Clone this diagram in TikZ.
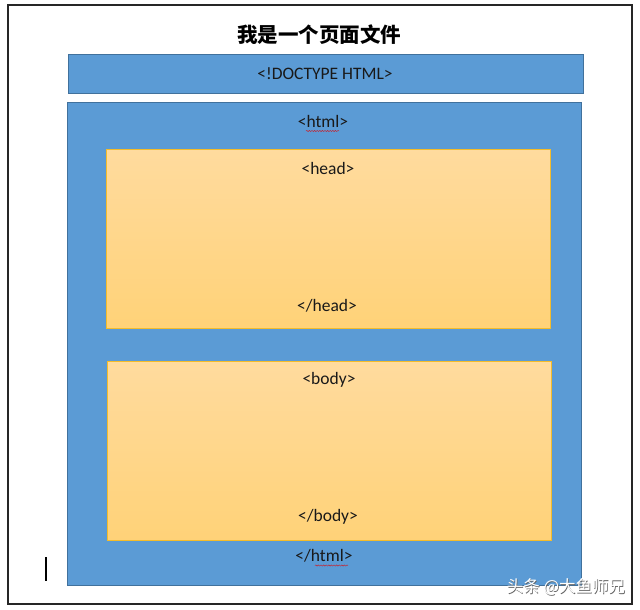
\documentclass[tikz,border=0pt]{standalone}
\usepackage{fontspec}
\setmainfont{Carlito}
\newfontfamily\cjk{Noto Sans CJK SC}
\usetikzlibrary{decorations.pathmorphing}
\definecolor{blueF}{HTML}{5B9BD5}
\definecolor{blueD}{HTML}{41719C}
\definecolor{orT}{HTML}{FFDB9E}
\definecolor{orB}{HTML}{FFD278}
\definecolor{orD}{HTML}{F4BC2A}
\begin{document}
\begin{tikzpicture}[x=1pt,y=-1pt,
  bluebox/.style={draw=blueD, fill=blueF, line width=1pt, inner sep=0pt},
  orbox/.style={draw=orD, top color=orT, bottom color=orB, line width=1pt, inner sep=0pt},
  lbl/.style={font=\fontsize{17.5}{20}\selectfont, text=black!90, inner sep=0pt},
  squig/.style={draw=red!70!blueD, decorate, decoration={snake, amplitude=0.6pt, segment length=2.6pt}, line width=0.45pt}]
\useasboundingbox (0,0) rectangle (640,610);
\fill[white] (0,0) rectangle (640,610);
\draw[line width=1.3pt, black!85] (8,5) rectangle (632,604);
\node[font=\cjk\fontsize{20.5}{24}\selectfont\bfseries, inner sep=0pt] (title) at (319,34.5) {我是一个页面文件};
\node[bluebox, minimum width=515, minimum height=38] (doctype) at (325.5,74) {};
\node[lbl] (doctypet) at (325,74) {<!DOCTYPE HTML>};
\node[bluebox, minimum width=514, minimum height=483] (html) at (324,343.5) {};
\node[orbox, minimum width=444, minimum height=179] (head) at (328,238.5) {};
\node[orbox, minimum width=444, minimum height=179] (body) at (329,450.5) {};
\node[lbl] (htmlo) at (323,121) {<html>};
\node[lbl] (heado) at (328,168) {<head>};
\node[lbl] (headc) at (327,306) {</head>};
\node[lbl] (bodyo) at (329,380) {<body>};
\node[lbl] (bodyc) at (328,517) {</body>};
\node[lbl] (htmlc) at (324,556) {</html>};
\draw[squig] (306,131) -- (339,131);
\draw[squig] (315,565.5) -- (348,565.5);
\draw[line width=1.3pt, black] (46,557) -- (46,581);
\node[font=\cjk\fontsize{16.5}{20}\selectfont, text=black!60, inner sep=0pt] (wms) at (566.8,587.8) {头条 @大鱼师兄};
\node[font=\cjk\fontsize{16.5}{20}\selectfont, text=white, inner sep=0pt] (wm) at (566,587) {头条 @大鱼师兄};
\end{tikzpicture}
\end{document}
